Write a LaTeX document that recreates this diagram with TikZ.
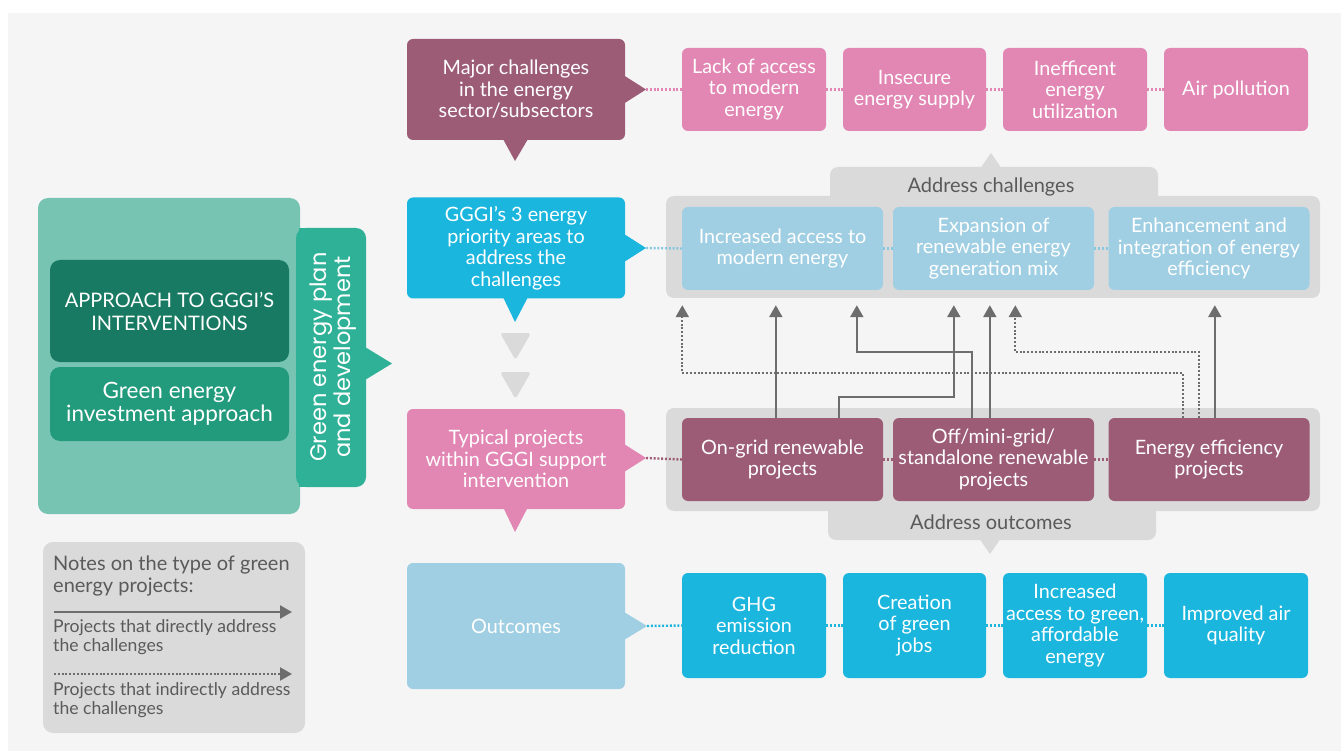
\documentclass[tikz,border=0pt]{standalone}
\usepackage{fontspec}
\setmainfont{Lato}
\newfontfamily\tabfont{Poppins}
\usetikzlibrary{arrows.meta,calc}
\newcommand\myfs[2]{\fontsize{#1pt}{#2pt}\selectfont}
\definecolor{bgc}{HTML}{F5F5F5}
\definecolor{tealL}{HTML}{78C4B2}
\definecolor{tealD}{HTML}{187A62}
\definecolor{tealM}{HTML}{229A7C}
\definecolor{tabc}{HTML}{2EB196}
\definecolor{maroonc}{HTML}{9C5C76}
\definecolor{pinkc}{HTML}{E286B3}
\definecolor{cyanc}{HTML}{1BB6DE}
\definecolor{lblue}{HTML}{A0CFE3}
\definecolor{grayc}{HTML}{DADADA}
\definecolor{arrc}{HTML}{6D6D6D}
\definecolor{txtg}{HTML}{5A5A5A}
\definecolor{lbdot}{HTML}{86C8E2}
\tikzset{
  box/.style={rounded corners=6pt, inner sep=0pt, align=center, text=white, font=\myfs{19.8}{21.5}},
  panelbox/.style={rounded corners=10pt, inner sep=0pt},
  dotline/.style={line width=2.4pt, dash pattern=on 2pt off 1.8pt},
  solidarr/.style={draw=arrc, line width=2.2pt, -{Triangle[length=12pt,width=13pt]}},
  dotarr/.style={draw=arrc, line width=2.2pt, dash pattern=on 2pt off 1.8pt, -{Triangle[length=12pt,width=13pt]}},
  addtxt/.style={text=txtg, font=\myfs{20}{21}, inner sep=0pt},
  notetxt/.style={text=txtg, align=left, inner sep=0pt, anchor=west},
}
\begin{document}
\begin{tikzpicture}[x=1pt,y=-1pt]
\useasboundingbox (0,0) rectangle (1341,751);
\fill[white] (0,0) rectangle (1341,751);
\fill[bgc] (8,13) rectangle (1341,751);

% ---------- left panel ----------
\node[panelbox, fill=tealL, minimum width=262pt, minimum height=316pt] (panel) at (169,356) {};
\fill[tabc, rounded corners=10pt] (296,228) rectangle (366,487);
\fill[tabc] (299,228) rectangle (315,487);
\fill[tabc] (365,347) -- (392,363.5) -- (365,380) -- cycle;
\node[text=white, rotate=90, align=center, inner sep=0pt, font=\tabfont\myfs{22.5}{24}] (tab) at (333,357) {Green energy plan\\and development};
\node[box, rounded corners=10pt, fill=tealD, minimum width=239pt, minimum height=102pt, font=\myfs{20}{23}] (approach) at (169.5,311) {APPROACH TO GGGI’S\\INTERVENTIONS};
\node[box, rounded corners=10pt, fill=tealM, minimum width=239pt, minimum height=74pt, font=\myfs{22.5}{23}] (invest) at (169.5,404) {Green energy\\investment approach};

% ---------- notes ----------
\node[panelbox, fill=grayc, minimum width=262pt, minimum height=191pt] (notes) at (174,637.5) {};
\node[notetxt, font=\myfs{20}{22}] (n1) at (53,576) {Notes on the type of green\\energy projects:};
\coordinate (ls1) at (54,612);
\coordinate (le1) at (292,612);
\draw[solidarr] (ls1) -- (le1);
\node[notetxt, font=\myfs{17.6}{19}] (n2) at (53,637.5) {Projects that directly address\\the challenges};
\coordinate (ls2) at (54,674);
\coordinate (le2) at (292,674);
\draw[dotarr] (ls2) -- (le2);
\node[notetxt, font=\myfs{17.6}{19}] (n3) at (53,700) {Projects that indirectly address\\the challenges};

% ---------- row callouts ----------
\node[box, fill=maroonc, minimum width=218pt, minimum height=101pt] (major) at (516,89.5) {Major challenges\\in the energy\\sector/subsectors};
\fill[maroonc] (624,75.5) -- (646,89.5) -- (624,103.5) -- cycle;
\fill[maroonc] (503,139) -- (515,161) -- (528,139) -- cycle;
\coordinate (majtip) at (646,89.5);

\node[box, fill=cyanc, minimum width=218pt, minimum height=101pt] (prio) at (516,248) {GGGI's 3 energy\\priority areas to\\address the\\challenges};
\fill[cyanc] (624,234) -- (646,248) -- (624,262) -- cycle;
\fill[cyanc] (503,297) -- (515,322) -- (528,297) -- cycle;
\coordinate (priotip) at (646,248);

\fill[grayc, rounded corners=3pt] (500,333) -- (531,333) -- (515.5,360) -- cycle;
\fill[grayc, rounded corners=3pt] (500,372) -- (531,372) -- (515.5,399) -- cycle;

\node[box, fill=pinkc, minimum width=218pt, minimum height=100pt] (typ) at (516,459) {Typical projects\\within GGGI support\\intervention};
\fill[pinkc] (624,444) -- (646,458) -- (624,472) -- cycle;
\fill[pinkc] (503,507) -- (515,532) -- (528,507) -- cycle;
\coordinate (typtip) at (646,458);

\node[box, fill=lblue, minimum width=218pt, minimum height=126pt] (outc) at (516,626) {Outcomes};
\fill[lblue] (624,612) -- (647,626) -- (624,640) -- cycle;
\coordinate (outtip) at (647,626);

% ---------- challenges row ----------
\node[box, fill=pinkc, minimum width=144pt, minimum height=83pt] (c1) at (754,89.5) {Lack of access\\to modern\\energy};
\node[box, fill=pinkc, minimum width=143pt, minimum height=83pt] (c2) at (914.5,89.5) {Insecure\\energy supply};
\node[box, fill=pinkc, minimum width=144pt, minimum height=83pt] (c3) at (1075,89.5) {Inefficent\\energy\\utilization};
\node[box, fill=pinkc, minimum width=144pt, minimum height=83pt] (c4) at (1236,89.5) {Air pollution};
\draw[dotline, draw=pinkc] (majtip) -- (c1.west);
\draw[dotline, draw=pinkc] (c1.east) -- (c2.west);
\draw[dotline, draw=pinkc] (c2.east) -- (c3.west);
\draw[dotline, draw=pinkc] (c3.east) -- (c4.west);

% ---------- priority areas ----------
\fill[grayc, rounded corners=8pt] (830,167) rectangle (1158,215);
\fill[grayc] (981,167.5) -- (991,153) -- (1001,167.5) -- cycle;
\node[panelbox, rounded corners=8pt, fill=grayc, minimum width=654pt, minimum height=102pt] (chalbg) at (993,247) {};
\node[addtxt] (addch) at (991,187) {Address challenges};
\node[box, fill=lblue, minimum width=201pt, minimum height=83pt] (p1) at (782.5,248.5) {Increased access to\\modern energy};
\node[box, fill=lblue, minimum width=201pt, minimum height=83pt] (p2) at (993.5,248.5) {Expansion of\\renewable energy\\generation mix};
\node[box, fill=lblue, minimum width=201pt, minimum height=83pt] (p3) at (1209,248.5) {Enhancement and\\integration of energy\\efficiency};
\draw[dotline, draw=lbdot] (priotip) -- (p1.west);
\draw[dotline, draw=lbdot] (p1.east) -- (p2.west);
\draw[dotline, draw=lbdot] (p2.east) -- (p3.west);

% ---------- projects ----------
\fill[grayc, rounded corners=8pt] (828,495) rectangle (1156,540);
\fill[grayc] (980,539.5) -- (990,554) -- (1000,539.5) -- cycle;
\node[panelbox, rounded corners=8pt, fill=grayc, minimum width=654pt, minimum height=103pt] (projbg) at (993,459.5) {};
\node[addtxt] (addout) at (991,522) {Address outcomes};
\node[box, fill=maroonc, minimum width=201pt, minimum height=83pt] (ongrid) at (782.5,459.5) {On-grid renewable\\projects};
\node[box, fill=maroonc, minimum width=201pt, minimum height=83pt] (offgrid) at (993.5,459.5) {Off/mini-grid/\\standalone renewable\\projects};
\node[box, fill=maroonc, minimum width=201pt, minimum height=83pt] (ee) at (1209,459.5) {Energy efficiency\\projects};
\draw[dotline, draw=maroonc] (typtip) -- (ongrid.west);
\draw[dotline, draw=maroonc] (ongrid.east) -- (offgrid.west);
\draw[dotline, draw=maroonc] (offgrid.east) -- (ee.west);

% ---------- project -> priority arrows ----------
\draw[dotarr] ([xshift=74.5pt]ee.north west) -- ++(0,-45) -| ([xshift=16.5pt,yshift=-7pt]chalbg.south west);
\draw[solidarr] ([xshift=94pt]ongrid.north west) -- ([xshift=110pt,yshift=-7pt]chalbg.south west);
\draw[solidarr] ([xshift=157pt]ongrid.north west) -- ++(0,-21) -| ([xshift=288pt,yshift=-7pt]chalbg.south west);
\draw[solidarr] ([xshift=79pt]offgrid.north west) -- ++(0,-66) -| ([xshift=191pt,yshift=-7pt]chalbg.south west);
\draw[solidarr] ([xshift=97pt]offgrid.north west) -- ([xshift=324pt,yshift=-7pt]chalbg.south west);
\draw[dotarr] ([xshift=90.5pt]ee.north west) -- ++(0,-66) -| ([xshift=349.5pt,yshift=-7pt]chalbg.south west);
\draw[solidarr] ([xshift=106.5pt]ee.north west) -- ([xshift=549pt,yshift=-7pt]chalbg.south west);

% ---------- outcomes ----------
\node[box, fill=cyanc, minimum width=144pt, minimum height=105pt] (o1) at (754,625.5) {GHG\\emission\\reduction};
\node[box, fill=cyanc, minimum width=143pt, minimum height=105pt] (o2) at (914.5,625.5) {Creation\\of green\\jobs};
\node[box, fill=cyanc, minimum width=144pt, minimum height=105pt] (o3) at (1075,625.5) {Increased\\access to green,\\affordable\\energy};
\node[box, fill=cyanc, minimum width=144pt, minimum height=105pt] (o4) at (1236,625.5) {Improved air\\quality};
\draw[dotline, draw=cyanc] (outtip) -- (o1.west);
\draw[dotline, draw=cyanc] (o1.east) -- (o2.west);
\draw[dotline, draw=cyanc] (o2.east) -- (o3.west);
\draw[dotline, draw=cyanc] (o3.east) -- (o4.west);
\end{tikzpicture}
\end{document}
